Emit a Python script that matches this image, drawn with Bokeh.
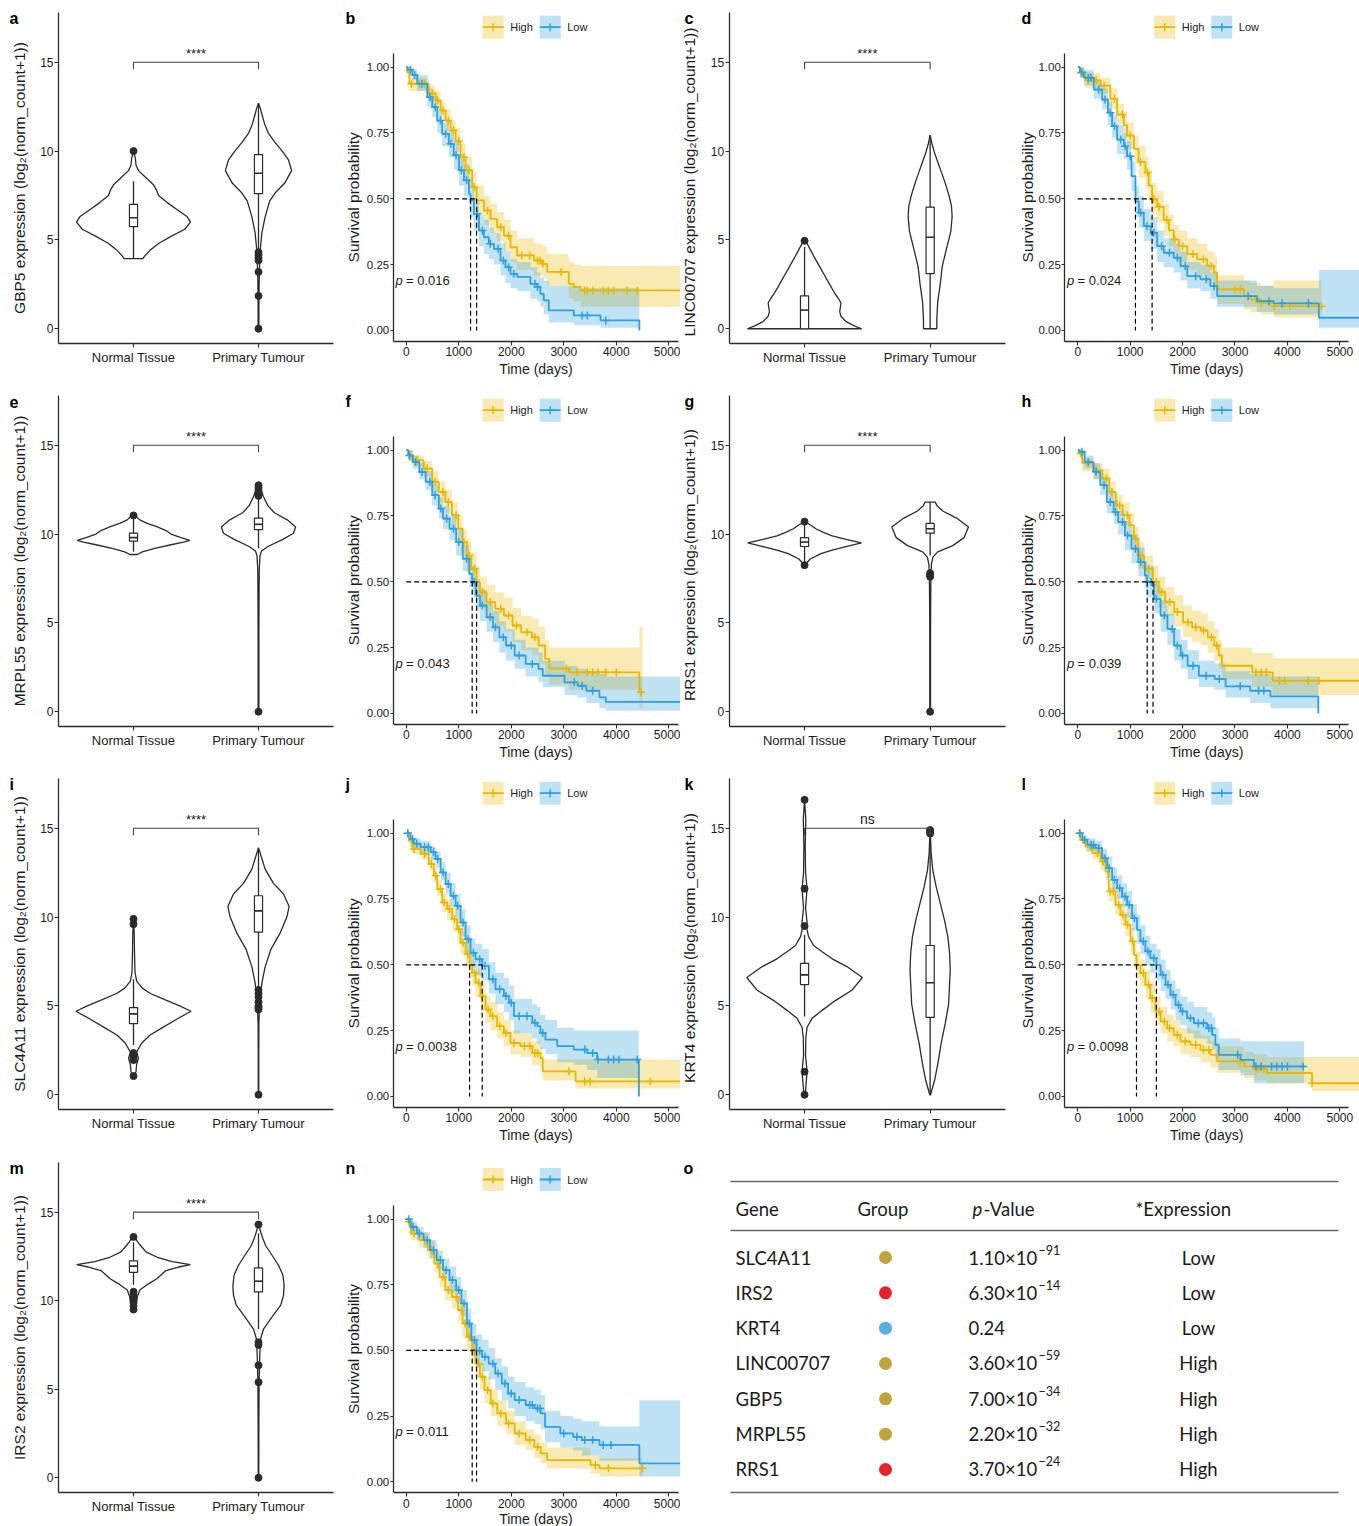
import numpy as np
from bokeh.plotting import figure
from bokeh.models import Range1d, FixedTicker, PrintfTickFormatter, Label, LinearAxis
from bokeh.layouts import row, column
from bokeh.embed import file_html
from bokeh.resources import INLINE
from bokeh.core.properties import value

FONT = "Liberation Sans"
TFONT = "Lato"
HIGH = "#E7B800"
LOW = "#2E9FDF"
INK = "#2b2b2b"
TXT = "#1a1a1a"
COL_W = [340, 340, 340, 339]
ROW_H = [383, 383, 383, 377]

# ======================= DATA: expression violins =======================
groups = ["Normal Tissue", "Primary Tumour"]

# GBP5 (a)
gbp5_norm_y = [3.95, 4.1, 4.4, 4.8, 5.2, 5.6, 6.0, 6.3, 6.7, 7.1, 7.5, 7.8, 8.1, 8.5, 8.9, 9.2, 9.6, 10.0]
gbp5_norm_w = [0.075, 0.09, 0.13, 0.2, 0.3, 0.41, 0.456, 0.43, 0.35, 0.27, 0.2, 0.185, 0.16, 0.1, 0.04, 0.02, 0.015, 0.0]
gbp5_tum_y = [0, 1.0, 2.0, 3.0, 3.8, 4.5, 5.4, 6.3, 7.2, 7.7, 8.2, 8.9, 9.5, 10.0, 10.5, 11.0, 11.5, 12.0, 12.4, 12.7]
gbp5_tum_w = [0.003, 0.003, 0.004, 0.006, 0.01, 0.015, 0.027, 0.053, 0.09, 0.14, 0.21, 0.265, 0.24, 0.19, 0.13, 0.08, 0.05, 0.03, 0.015, 0.0]
gbp5_box_norm = [3.95, 5.75, 6.25, 7.0, 8.3]     # whisker low, q1, median, q3, whisker high
gbp5_box_tum = [4.4, 7.6, 8.75, 9.8, 12.7]
gbp5_out_norm = [10.0]
gbp5_out_tum = [4.3, 4.15, 4.0, 3.85, 3.2, 1.85, 0.0]

# LINC00707 (c)
linc_norm_y = [0, 0.15, 0.4, 0.7, 0.95, 1.2, 1.45, 1.7, 2.0, 2.5, 3.0, 3.5, 4.0, 4.4, 4.8, 5.0]
linc_norm_w = [0.455, 0.4, 0.33, 0.29, 0.28, 0.285, 0.29, 0.27, 0.24, 0.2, 0.16, 0.12, 0.08, 0.05, 0.02, 0.0]
linc_tum_y = [0, 0.5, 1.5, 2.5, 3.5, 4.5, 5.5, 6.3, 6.9, 7.5, 8.2, 8.8, 9.4, 9.9, 10.4, 10.9]
linc_tum_w = [0.053, 0.053, 0.06, 0.08, 0.096, 0.13, 0.165, 0.175, 0.17, 0.15, 0.12, 0.09, 0.06, 0.035, 0.015, 0.0]
linc_box_norm = [0.0, 0.0, 1.05, 1.85, 4.6]
linc_box_tum = [0.0, 3.1, 5.15, 6.85, 10.9]
linc_out_norm = [4.95]
linc_out_tum = []

# MRPL55 (e)
mrpl_norm_y = [8.85, 9.0, 9.2, 9.4, 9.55, 9.65, 9.8, 10.0, 10.2, 10.4, 10.6, 10.8, 11.0, 11.15]
mrpl_norm_w = [0.03, 0.07, 0.17, 0.3, 0.4, 0.45, 0.38, 0.3, 0.26, 0.19, 0.11, 0.05, 0.02, 0.0]
mrpl_tum_y = [0, 2, 4, 6, 8, 8.8, 9.05, 9.3, 9.7, 10.05, 10.4, 10.8, 11.2, 11.6, 12.1, 12.5, 12.85]
mrpl_tum_w = [0.003, 0.003, 0.003, 0.004, 0.006, 0.012, 0.025, 0.075, 0.195, 0.28, 0.297, 0.23, 0.127, 0.075, 0.04, 0.02, 0.0]
mrpl_box_norm = [9.0, 9.6, 9.8, 10.05, 10.9]
mrpl_box_tum = [9.2, 10.25, 10.55, 10.9, 12.0]
mrpl_out_norm = [11.05]
mrpl_out_tum = [12.15, 12.3, 12.45, 12.6, 12.75, 0.0]

# RRS1 (g)
rrs1_norm_y = [8.2, 8.4, 8.6, 8.9, 9.1, 9.3, 9.5, 9.7, 9.9, 10.1, 10.3, 10.5, 10.7]
rrs1_norm_w = [0.0, 0.02, 0.045, 0.13, 0.22, 0.33, 0.453, 0.33, 0.22, 0.15, 0.09, 0.05, 0.0]
rrs1_tum_y = [0, 2, 4, 6, 7.5, 8.3, 8.7, 9.0, 9.35, 9.8, 10.4, 10.9, 11.3, 11.6, 11.8]
rrs1_tum_w = [0.003, 0.003, 0.003, 0.004, 0.006, 0.01, 0.022, 0.06, 0.18, 0.27, 0.305, 0.21, 0.1, 0.055, 0.04]
rrs1_box_norm = [8.4, 9.3, 9.55, 9.8, 10.5]
rrs1_box_tum = [8.8, 10.05, 10.3, 10.6, 11.8]
rrs1_out_norm = [8.25, 10.7]
rrs1_out_tum = [7.8, 7.7, 7.6, 0.0]

# SLC4A11 (i)
slc_norm_y = [1.0, 1.3, 1.7, 2.05, 2.4, 2.9, 3.35, 3.75, 4.25, 4.7, 5.0, 5.35, 5.7, 6.0, 6.4, 6.9, 8.0, 9.0, 9.9]
slc_norm_w = [0.0, 0.02, 0.025, 0.04, 0.025, 0.065, 0.13, 0.225, 0.345, 0.46, 0.37, 0.25, 0.135, 0.07, 0.025, 0.012, 0.008, 0.006, 0.0]
slc_tum_y = [0, 2, 4, 4.8, 5.4, 6.3, 7.2, 8.2, 9.1, 10.0, 10.6, 11.3, 11.9, 12.7, 13.3, 13.9]
slc_tum_w = [0.002, 0.002, 0.003, 0.008, 0.013, 0.027, 0.053, 0.1, 0.173, 0.227, 0.245, 0.2, 0.12, 0.053, 0.027, 0.0]
slc_box_norm = [2.8, 4.0, 4.55, 4.9, 6.5]
slc_box_tum = [6.0, 9.15, 10.35, 11.2, 13.8]
slc_out_norm = [2.35, 2.25, 2.15, 2.05, 1.95, 1.05, 9.6, 9.9]
slc_out_tum = [5.9, 5.7, 5.5, 5.2, 5.0, 4.9, 4.8, 0.0]

# KRT4 (k)
krt_norm_y = [0, 0.6, 1.3, 2.2, 3.2, 3.8, 4.3, 4.75, 5.3, 5.9, 6.6, 7.2, 7.65, 8.05, 8.4, 8.9, 9.4, 9.7, 10.5, 11.6, 12.5, 14.0, 15.5, 16.6]
krt_norm_w = [0.005, 0.012, 0.02, 0.008, 0.01, 0.02, 0.06, 0.14, 0.245, 0.38, 0.46, 0.34, 0.22, 0.14, 0.072, 0.032, 0.016, 0.02, 0.008, 0.02, 0.008, 0.005, 0.01, 0.0]
krt_tum_y = [0, 0.8, 1.7, 2.9, 4.0, 5.1, 6.25, 7.0, 7.95, 8.9, 9.8, 10.8, 11.7, 12.65, 13.6, 14.3, 14.9]
krt_tum_w = [0.003, 0.035, 0.06, 0.088, 0.12, 0.147, 0.155, 0.16, 0.155, 0.141, 0.115, 0.08, 0.048, 0.021, 0.008, 0.004, 0.0]
krt_box_norm = [4.4, 6.2, 6.75, 7.4, 9.0]
krt_box_tum = [0.0, 4.35, 6.3, 8.4, 14.4]
krt_out_norm = [0.0, 1.3, 9.5, 11.6, 16.6]
krt_out_tum = [14.9, 14.8, 14.7]

# IRS2 (m)
irs_norm_y = [9.45, 9.75, 10.2, 10.6, 10.95, 11.25, 11.45, 11.7, 11.9, 12.03, 12.2, 12.45, 12.75, 13.0, 13.3, 13.65]
irs_norm_w = [0.0, 0.02, 0.03, 0.05, 0.12, 0.19, 0.22, 0.26, 0.36, 0.455, 0.31, 0.19, 0.1, 0.07, 0.035, 0.0]
irs_tum_y = [0, 3, 5.5, 6.9, 7.85, 8.4, 9.1, 9.75, 10.3, 10.85, 11.45, 12.0, 12.55, 13.1, 13.6, 14.0, 14.3]
irs_tum_w = [0.002, 0.003, 0.005, 0.01, 0.017, 0.04, 0.11, 0.178, 0.2, 0.205, 0.195, 0.16, 0.11, 0.058, 0.03, 0.012, 0.0]
irs_box_norm = [10.9, 11.6, 11.95, 12.25, 13.3]
irs_box_tum = [8.4, 10.5, 11.1, 11.85, 13.8]
irs_out_norm = [13.6, 10.5, 10.35, 10.2, 10.05, 9.9, 9.7, 9.5]
irs_out_tum = [14.3, 7.65, 7.5, 6.35, 5.4, 0.0]

# ======================= DATA: Kaplan-Meier curves =======================
km_groups = ["High", "Low"]

# GBP5 (b)
b_high_t = [0, 20, 60, 430, 560, 655, 750, 845, 940, 1035, 1130, 1255, 1340, 1480, 1605, 1730, 1860, 1985, 2110, 2430, 2590, 2685, 3095, 3190, 3320, 5400]
b_high_s = [1.0, 0.98, 0.937, 0.90, 0.873, 0.835, 0.797, 0.76, 0.72, 0.658, 0.608, 0.544, 0.494, 0.456, 0.424, 0.392, 0.36, 0.316, 0.285, 0.266, 0.253, 0.222, 0.177, 0.165, 0.152, 0.152]
b_high_lo = [1.0, 0.96, 0.91, 0.87, 0.84, 0.80, 0.76, 0.72, 0.68, 0.61, 0.56, 0.49, 0.44, 0.40, 0.37, 0.34, 0.30, 0.26, 0.23, 0.21, 0.20, 0.17, 0.12, 0.11, 0.09, 0.09]
b_high_hi = [1.0, 1.0, 0.96, 0.93, 0.91, 0.87, 0.84, 0.80, 0.77, 0.71, 0.66, 0.60, 0.55, 0.51, 0.48, 0.45, 0.42, 0.38, 0.35, 0.33, 0.32, 0.29, 0.26, 0.25, 0.245, 0.245]
b_high_cens = [100, 250, 350, 500, 600, 700, 800, 900, 1000, 1100, 1200, 1300, 1550, 1800, 1950, 2200, 2350, 2500, 2550, 2600, 2950, 3400, 3450, 3550, 3750, 3850, 3950, 4200, 4400]
b_low_t = [0, 30, 115, 210, 400, 495, 590, 685, 810, 905, 1005, 1100, 1195, 1225, 1290, 1385, 1480, 1575, 1670, 1795, 1890, 1985, 2115, 2365, 2495, 2555, 2620, 2715, 3190, 3700, 4440]
b_low_s = [1.0, 0.99, 0.97, 0.937, 0.886, 0.848, 0.797, 0.747, 0.709, 0.665, 0.608, 0.57, 0.519, 0.494, 0.443, 0.38, 0.354, 0.329, 0.31, 0.266, 0.24, 0.215, 0.203, 0.177, 0.165, 0.139, 0.114, 0.076, 0.057, 0.038, 0.0]
b_low_lo = [1.0, 0.98, 0.95, 0.91, 0.85, 0.81, 0.75, 0.70, 0.66, 0.61, 0.55, 0.51, 0.46, 0.43, 0.38, 0.32, 0.29, 0.27, 0.25, 0.21, 0.18, 0.16, 0.15, 0.12, 0.11, 0.09, 0.06, 0.03, 0.02, 0.01, 0.01]
b_low_hi = [1.0, 1.0, 0.99, 0.97, 0.92, 0.89, 0.84, 0.79, 0.76, 0.72, 0.67, 0.63, 0.58, 0.56, 0.50, 0.44, 0.42, 0.39, 0.37, 0.33, 0.30, 0.27, 0.26, 0.24, 0.22, 0.20, 0.19, 0.17, 0.16, 0.16, 0.16]
b_low_cens = [80, 160, 300, 450, 550, 650, 750, 850, 950, 1050, 1150, 1350, 1450, 1600, 1750, 1850, 1950, 2050, 2450, 2500, 3350, 3450, 3800]
b_pval = 0.016

# LINC00707 (d)
d_high_t = [0, 40, 150, 430, 620, 750, 880, 940, 1070, 1160, 1290, 1355, 1418, 1510, 1640, 1740, 1830, 1930, 2090, 2280, 2470, 2600, 2660, 3170, 3300, 3490, 3740, 4650]
d_high_s = [1.0, 0.98, 0.95, 0.93, 0.88, 0.82, 0.78, 0.74, 0.69, 0.64, 0.60, 0.55, 0.50, 0.47, 0.42, 0.38, 0.345, 0.32, 0.29, 0.27, 0.245, 0.22, 0.156, 0.13, 0.118, 0.105, 0.092, 0.092]
d_high_lo = [1.0, 0.96, 0.92, 0.90, 0.84, 0.78, 0.73, 0.69, 0.64, 0.58, 0.54, 0.49, 0.44, 0.41, 0.36, 0.32, 0.29, 0.26, 0.23, 0.21, 0.19, 0.16, 0.10, 0.08, 0.07, 0.06, 0.05, 0.05]
d_high_hi = [1.0, 1.0, 0.98, 0.96, 0.92, 0.86, 0.83, 0.79, 0.74, 0.70, 0.66, 0.61, 0.56, 0.53, 0.48, 0.44, 0.40, 0.38, 0.35, 0.33, 0.30, 0.28, 0.21, 0.19, 0.18, 0.17, 0.19, 0.19]
d_high_cens = [60, 200, 350, 500, 700, 850, 1000, 1200, 1330, 1450, 1550, 1700, 1850, 2000, 2200, 2400, 2550, 3000, 3100, 3400, 3500, 3750, 4050, 4650]
d_low_t = [0, 40, 115, 305, 465, 575, 655, 750, 880, 940, 1025, 1100, 1165, 1260, 1390, 1515, 1640, 1830, 1960, 2090, 2340, 2530, 2660, 3420, 3740, 4600, 5400]
d_low_s = [1.0, 0.98, 0.96, 0.915, 0.877, 0.827, 0.776, 0.725, 0.70, 0.662, 0.586, 0.49, 0.447, 0.396, 0.371, 0.32, 0.295, 0.276, 0.244, 0.206, 0.194, 0.168, 0.13, 0.111, 0.103, 0.048, 0.048]
d_low_lo = [1.0, 0.96, 0.93, 0.88, 0.84, 0.78, 0.73, 0.67, 0.65, 0.61, 0.53, 0.43, 0.39, 0.34, 0.31, 0.26, 0.24, 0.22, 0.19, 0.16, 0.15, 0.12, 0.09, 0.07, 0.06, 0.01, 0.01]
d_low_hi = [1.0, 1.0, 0.99, 0.95, 0.92, 0.87, 0.82, 0.78, 0.75, 0.72, 0.64, 0.55, 0.51, 0.46, 0.43, 0.38, 0.35, 0.33, 0.30, 0.26, 0.25, 0.22, 0.19, 0.17, 0.16, 0.23, 0.23]
d_low_cens = [80, 200, 250, 400, 520, 620, 700, 820, 900, 1000, 1200, 1320, 1450, 1600, 1750, 1900, 2050, 2250, 2450, 2600, 3250, 3650, 3900, 4400]
d_pval = 0.024

# MRPL55 (f)
f_high_t = [0, 40, 125, 330, 495, 620, 745, 870, 990, 1075, 1155, 1240, 1340, 1405, 1530, 1695, 1860, 2025, 2190, 2395, 2520, 2645, 2725, 3100, 4440, 4500]
f_high_s = [1.0, 0.98, 0.962, 0.93, 0.88, 0.841, 0.803, 0.753, 0.702, 0.651, 0.60, 0.55, 0.499, 0.461, 0.423, 0.397, 0.372, 0.334, 0.308, 0.289, 0.258, 0.207, 0.171, 0.156, 0.08, 0.08]
f_high_lo = [1.0, 0.96, 0.94, 0.90, 0.84, 0.80, 0.76, 0.70, 0.65, 0.60, 0.54, 0.49, 0.44, 0.40, 0.36, 0.33, 0.31, 0.27, 0.24, 0.22, 0.19, 0.14, 0.11, 0.09, 0.02, 0.02]
f_high_hi = [1.0, 1.0, 0.98, 0.96, 0.92, 0.88, 0.85, 0.80, 0.75, 0.70, 0.66, 0.61, 0.56, 0.52, 0.49, 0.46, 0.44, 0.40, 0.37, 0.36, 0.33, 0.28, 0.25, 0.25, 0.33, 0.33]
f_high_cens = [80, 200, 400, 550, 700, 800, 950, 1100, 1200, 1300, 1450, 1600, 1800, 1950, 2100, 2300, 2450, 3050, 3250, 3450, 3550, 3650, 3800, 4000, 4470]
f_low_t = [0, 40, 125, 250, 370, 495, 620, 700, 825, 950, 1075, 1200, 1256, 1320, 1405, 1530, 1655, 1775, 1900, 2065, 2275, 2520, 2600, 3015, 3265, 3430, 3680, 3800, 5400]
f_low_s = [1.0, 0.98, 0.955, 0.917, 0.88, 0.829, 0.778, 0.74, 0.702, 0.651, 0.588, 0.53, 0.499, 0.448, 0.41, 0.365, 0.327, 0.289, 0.258, 0.22, 0.188, 0.169, 0.143, 0.118, 0.105, 0.086, 0.061, 0.044, 0.044]
f_low_lo = [1.0, 0.96, 0.93, 0.89, 0.85, 0.79, 0.74, 0.70, 0.66, 0.60, 0.54, 0.48, 0.45, 0.39, 0.35, 0.31, 0.27, 0.23, 0.20, 0.17, 0.14, 0.12, 0.10, 0.07, 0.06, 0.04, 0.02, 0.01, 0.01]
f_low_hi = [1.0, 1.0, 0.98, 0.95, 0.92, 0.87, 0.82, 0.79, 0.75, 0.70, 0.64, 0.59, 0.56, 0.51, 0.47, 0.42, 0.39, 0.35, 0.32, 0.28, 0.25, 0.23, 0.20, 0.18, 0.17, 0.16, 0.15, 0.14, 0.14]
f_low_cens = [60, 180, 300, 450, 550, 660, 770, 900, 1000, 1150, 1300, 1450, 1600, 1700, 1850, 2000, 2150, 2400, 3200, 3350, 3550]
f_pval = 0.043

# RRS1 (h)
h_high_t = [0, 30, 85, 300, 470, 600, 725, 855, 985, 1070, 1155, 1265, 1436, 1540, 1665, 1840, 2010, 2180, 2350, 2480, 2605, 2690, 2750, 3330, 3720, 5400]
h_high_s = [1.0, 0.987, 0.95, 0.924, 0.892, 0.841, 0.79, 0.753, 0.715, 0.664, 0.60, 0.55, 0.499, 0.461, 0.423, 0.385, 0.346, 0.327, 0.315, 0.289, 0.258, 0.22, 0.181, 0.156, 0.124, 0.124]
h_high_lo = [1.0, 0.97, 0.92, 0.89, 0.86, 0.80, 0.75, 0.71, 0.67, 0.61, 0.55, 0.50, 0.44, 0.40, 0.37, 0.33, 0.29, 0.27, 0.26, 0.23, 0.20, 0.17, 0.13, 0.10, 0.07, 0.07]
h_high_hi = [1.0, 1.0, 0.97, 0.95, 0.93, 0.88, 0.83, 0.80, 0.76, 0.71, 0.65, 0.60, 0.56, 0.52, 0.48, 0.45, 0.41, 0.39, 0.38, 0.35, 0.32, 0.28, 0.25, 0.23, 0.21, 0.21]
h_high_cens = [60, 200, 350, 550, 650, 800, 950, 1100, 1200, 1350, 1500, 1600, 1750, 1900, 2100, 2250, 2400, 2550, 2650, 3400, 3500, 3600, 3850, 3950, 4400, 4600]
h_low_t = [0, 30, 130, 300, 430, 555, 685, 770, 900, 1025, 1155, 1280, 1325, 1455, 1580, 1710, 1840, 1965, 2095, 2310, 2610, 2820, 3290, 3675, 4590]
h_low_s = [1.0, 0.994, 0.955, 0.918, 0.867, 0.803, 0.765, 0.727, 0.676, 0.626, 0.575, 0.524, 0.499, 0.435, 0.372, 0.321, 0.258, 0.22, 0.181, 0.143, 0.131, 0.103, 0.086, 0.065, 0.0]
h_low_lo = [1.0, 0.98, 0.93, 0.89, 0.83, 0.76, 0.72, 0.68, 0.62, 0.57, 0.52, 0.47, 0.44, 0.38, 0.31, 0.26, 0.20, 0.17, 0.13, 0.10, 0.09, 0.06, 0.04, 0.02, 0.02]
h_low_hi = [1.0, 1.0, 0.98, 0.95, 0.90, 0.85, 0.81, 0.77, 0.73, 0.68, 0.63, 0.58, 0.56, 0.49, 0.43, 0.38, 0.32, 0.28, 0.24, 0.20, 0.19, 0.16, 0.15, 0.14, 0.14]
h_low_cens = [80, 200, 350, 500, 620, 720, 850, 950, 1100, 1200, 1400, 1500, 1650, 1800, 1900, 2000, 2200, 2450, 2700, 3100, 3450, 3550]
h_pval = 0.039

# SLC4A11 (j)
j_high_t = [0, 50, 115, 275, 430, 525, 590, 685, 780, 875, 970, 1035, 1130, 1206, 1255, 1320, 1415, 1510, 1605, 1730, 1860, 1985, 2175, 2400, 2555, 2600, 3225, 5400]
j_high_s = [1.0, 0.972, 0.94, 0.921, 0.883, 0.839, 0.788, 0.737, 0.712, 0.673, 0.635, 0.584, 0.54, 0.499, 0.47, 0.432, 0.381, 0.33, 0.305, 0.267, 0.241, 0.203, 0.191, 0.165, 0.146, 0.095, 0.057, 0.057]
j_high_lo = [1.0, 0.95, 0.92, 0.90, 0.86, 0.81, 0.76, 0.70, 0.67, 0.63, 0.59, 0.54, 0.49, 0.45, 0.42, 0.38, 0.33, 0.28, 0.25, 0.22, 0.19, 0.16, 0.15, 0.12, 0.10, 0.06, 0.03, 0.03]
j_high_hi = [1.0, 0.99, 0.96, 0.95, 0.91, 0.87, 0.82, 0.77, 0.75, 0.72, 0.68, 0.63, 0.59, 0.55, 0.52, 0.48, 0.43, 0.38, 0.36, 0.32, 0.29, 0.25, 0.24, 0.21, 0.19, 0.14, 0.14, 0.14]
j_high_cens = [30, 150, 350, 480, 560, 650, 720, 820, 920, 1000, 1080, 1170, 1300, 1380, 1450, 1560, 1650, 1780, 1900, 2050, 2250, 2350, 2450, 2500, 3100, 3400, 3500, 4650]
j_low_t = [0, 80, 145, 275, 465, 560, 655, 750, 845, 940, 1035, 1130, 1225, 1320, 1447, 1575, 1700, 1860, 1955, 2050, 2400, 2495, 2555, 2650, 2875, 3190, 3445, 3635, 4430]
j_low_s = [1.0, 0.978, 0.96, 0.947, 0.928, 0.902, 0.851, 0.807, 0.762, 0.724, 0.661, 0.597, 0.546, 0.521, 0.496, 0.445, 0.407, 0.381, 0.356, 0.305, 0.28, 0.267, 0.241, 0.216, 0.191, 0.178, 0.165, 0.14, 0.0]
j_low_lo = [1.0, 0.96, 0.94, 0.92, 0.90, 0.87, 0.82, 0.77, 0.72, 0.68, 0.61, 0.55, 0.49, 0.46, 0.44, 0.39, 0.35, 0.32, 0.29, 0.24, 0.22, 0.20, 0.18, 0.16, 0.13, 0.12, 0.10, 0.07, 0.07]
j_low_hi = [1.0, 0.99, 0.98, 0.97, 0.95, 0.93, 0.89, 0.85, 0.81, 0.77, 0.71, 0.65, 0.60, 0.58, 0.56, 0.51, 0.47, 0.45, 0.42, 0.37, 0.35, 0.34, 0.31, 0.29, 0.26, 0.25, 0.25, 0.25, 0.25]
j_low_cens = [30, 120, 200, 350, 420, 520, 600, 700, 800, 900, 980, 1080, 1180, 1280, 1400, 1500, 1650, 1780, 1900, 2000, 2150, 2300, 2450, 2600, 3400, 3550, 3650, 3850, 3950, 4050, 4400]
j_pval = 0.0038

# KRT4 (l)
l_high_t = [0, 50, 145, 275, 435, 530, 590, 720, 815, 910, 1005, 1070, 1120, 1195, 1290, 1385, 1480, 1580, 1705, 1830, 1960, 2150, 2340, 2530, 2660, 3170, 3360, 3610, 4470, 5400]
l_high_s = [1.0, 0.975, 0.949, 0.924, 0.892, 0.854, 0.778, 0.728, 0.69, 0.652, 0.589, 0.538, 0.499, 0.468, 0.424, 0.373, 0.323, 0.285, 0.259, 0.234, 0.209, 0.196, 0.177, 0.158, 0.133, 0.114, 0.105, 0.089, 0.05, 0.05]
l_high_lo = [1.0, 0.96, 0.93, 0.90, 0.86, 0.82, 0.74, 0.69, 0.65, 0.61, 0.54, 0.49, 0.45, 0.42, 0.37, 0.32, 0.27, 0.24, 0.21, 0.19, 0.16, 0.15, 0.13, 0.11, 0.09, 0.07, 0.06, 0.05, 0.02, 0.02]
l_high_hi = [1.0, 0.99, 0.97, 0.95, 0.92, 0.89, 0.82, 0.77, 0.73, 0.70, 0.64, 0.59, 0.55, 0.52, 0.48, 0.43, 0.38, 0.34, 0.31, 0.29, 0.26, 0.25, 0.23, 0.21, 0.19, 0.17, 0.16, 0.15, 0.15, 0.15]
l_high_cens = [30, 100, 250, 380, 480, 620, 680, 780, 860, 950, 1050, 1250, 1350, 1420, 1550, 1650, 1750, 1900, 2050, 2250, 2400, 2500, 3100, 3400, 3450, 3550, 4470]
l_low_t = [0, 85, 180, 335, 465, 560, 655, 750, 845, 940, 1035, 1130, 1195, 1290, 1385, 1500, 1580, 1675, 1770, 1865, 1960, 2085, 2215, 2470, 2565, 2625, 2690, 3105, 3360, 4320]
l_low_s = [1.0, 0.975, 0.956, 0.943, 0.905, 0.867, 0.823, 0.791, 0.759, 0.728, 0.677, 0.633, 0.589, 0.551, 0.525, 0.499, 0.462, 0.424, 0.386, 0.348, 0.323, 0.297, 0.278, 0.259, 0.234, 0.196, 0.158, 0.139, 0.114, 0.114]
l_low_lo = [1.0, 0.96, 0.93, 0.92, 0.88, 0.83, 0.78, 0.75, 0.72, 0.68, 0.63, 0.58, 0.54, 0.50, 0.47, 0.44, 0.40, 0.37, 0.33, 0.29, 0.27, 0.24, 0.22, 0.20, 0.18, 0.14, 0.10, 0.08, 0.05, 0.05]
l_low_hi = [1.0, 0.99, 0.98, 0.97, 0.94, 0.91, 0.87, 0.84, 0.81, 0.78, 0.73, 0.69, 0.65, 0.61, 0.58, 0.56, 0.52, 0.48, 0.44, 0.41, 0.38, 0.36, 0.34, 0.32, 0.30, 0.26, 0.22, 0.21, 0.21, 0.21]
l_low_cens = [40, 130, 250, 300, 400, 520, 600, 700, 800, 900, 980, 1080, 1250, 1340, 1450, 1620, 1720, 1820, 1920, 2000, 2150, 2300, 2400, 2500, 2550, 3050, 3400, 3500, 3700, 3800, 3900, 4000, 4300]
l_pval = 0.0098

# IRS2 (n)
n_high_t = [0, 30, 85, 250, 415, 535, 635, 745, 870, 990, 1075, 1155, 1256, 1320, 1405, 1490, 1610, 1735, 1900, 2065, 2275, 2440, 2560, 2685, 3510, 3680, 4500]
n_high_s = [1.0, 0.99, 0.945, 0.92, 0.882, 0.831, 0.78, 0.73, 0.704, 0.654, 0.603, 0.552, 0.499, 0.45, 0.40, 0.349, 0.298, 0.26, 0.222, 0.184, 0.159, 0.133, 0.108, 0.082, 0.063, 0.051, 0.051]
n_high_lo = [1.0, 0.97, 0.92, 0.89, 0.85, 0.80, 0.74, 0.69, 0.66, 0.61, 0.55, 0.50, 0.45, 0.40, 0.35, 0.30, 0.25, 0.21, 0.18, 0.14, 0.12, 0.09, 0.07, 0.05, 0.03, 0.02, 0.02]
n_high_hi = [1.0, 1.0, 0.97, 0.95, 0.92, 0.87, 0.82, 0.77, 0.75, 0.70, 0.65, 0.60, 0.55, 0.50, 0.45, 0.40, 0.35, 0.31, 0.27, 0.23, 0.20, 0.18, 0.15, 0.13, 0.10, 0.09, 0.09]
n_high_cens = [50, 150, 350, 480, 600, 700, 800, 950, 1050, 1120, 1200, 1300, 1380, 1450, 1550, 1650, 1800, 1950, 2150, 2350, 2500, 3600, 3850, 4500]
n_low_t = [0, 85, 205, 330, 455, 580, 700, 825, 950, 1050, 1155, 1240, 1339, 1445, 1570, 1695, 1820, 1940, 2065, 2275, 2440, 2560, 2645, 2935, 3180, 3345, 3680, 4440, 5400]
n_low_s = [1.0, 0.971, 0.945, 0.92, 0.882, 0.844, 0.806, 0.768, 0.73, 0.679, 0.603, 0.539, 0.499, 0.476, 0.45, 0.412, 0.374, 0.336, 0.311, 0.292, 0.279, 0.26, 0.209, 0.184, 0.171, 0.159, 0.14, 0.07, 0.07]
n_low_lo = [1.0, 0.95, 0.92, 0.89, 0.85, 0.81, 0.77, 0.72, 0.68, 0.63, 0.55, 0.48, 0.44, 0.42, 0.39, 0.35, 0.31, 0.28, 0.25, 0.23, 0.22, 0.20, 0.15, 0.13, 0.12, 0.10, 0.08, 0.02, 0.02]
n_low_hi = [1.0, 0.99, 0.97, 0.95, 0.92, 0.88, 0.85, 0.82, 0.78, 0.73, 0.66, 0.60, 0.56, 0.54, 0.51, 0.47, 0.44, 0.40, 0.38, 0.36, 0.35, 0.33, 0.27, 0.25, 0.24, 0.23, 0.21, 0.31, 0.31]
n_low_cens = [50, 130, 250, 400, 520, 650, 760, 880, 1000, 1100, 1200, 1300, 1400, 1500, 1650, 1750, 1880, 2000, 2150, 2350, 2400, 2500, 2550, 3000, 3250, 3400, 3550, 3750, 3900, 5400]
n_pval = 0.011

# ======================= DATA: summary table =======================
table_genes = ["SLC4A11", "IRS2", "KRT4", "LINC00707", "GBP5", "MRPL55", "RRS1"]
table_group_colors = ["#C0A33C", "#E8222A", "#5AAEE2", "#C0A33C", "#C0A33C", "#C0A33C", "#E8222A"]
table_pvalues = [1.10e-91, 6.30e-14, 0.24, 3.60e-59, 7.00e-34, 2.20e-32, 3.70e-24]
table_expression = ["Low", "Low", "Low", "High", "High", "High", "High"]


# ======================= helpers =======================
def make_panel(width, height, box, xr, yr):
    """Figure whose frame is the whole panel; `box` = (left, top, right, bottom) px of the plotting area."""
    l, t, r, b = box
    sx = (xr[1] - xr[0]) / (r - l)
    sy = (yr[1] - yr[0]) / (b - t)
    x0 = xr[0] - l * sx
    y1 = yr[1] + t * sy
    p = figure(width=width, height=height,
               x_range=Range1d(x0, x0 + width * sx), y_range=Range1d(y1 - height * sy, y1),
               output_backend="svg", toolbar_location=None,
               x_axis_location=None, y_axis_location=None,
               min_border=0, min_border_left=0, min_border_right=0, min_border_top=0, min_border_bottom=0)
    p.xgrid.visible = False
    p.ygrid.visible = False
    p.outline_line_color = None
    p.background_fill_color = "white"
    p.border_fill_color = "white"
    X = lambda px: x0 + px * sx
    Y = lambda py: y1 - py * sy
    return p, X, Y


def add_axes(p, xr, yr, xticks, yticks, xsize, ysize, xstand, ystand, ytick_out=4):
    xax = LinearAxis(fixed_location=yr[0], bounds=tuple(xr), ticker=FixedTicker(ticks=xticks))
    yax = LinearAxis(fixed_location=xr[0], bounds=tuple(yr), ticker=FixedTicker(ticks=yticks))
    for ax, size, stand, tout in ((xax, xsize, xstand, 4), (yax, ysize, ystand, ytick_out)):
        ax.axis_line_color = INK
        ax.axis_line_width = 1.3
        ax.major_tick_line_color = INK
        ax.major_tick_line_width = 1.1
        ax.major_tick_in = 0
        ax.major_tick_out = tout
        ax.minor_tick_line_color = None
        ax.major_label_text_font = FONT
        ax.major_label_text_color = TXT
        ax.major_label_text_font_size = size
        ax.major_label_standoff = stand
    p.add_layout(xax, "below")
    p.add_layout(yax, "left")
    return xax, yax


def add_text(p, x, y, text, size, **kw):
    p.add_layout(Label(x=x, y=y, text=text, text_font=FONT, text_font_size=size,
                       text_color=kw.pop("color", TXT), **kw))


def violin_panel(letter, gene, nv, tv, nbox, tbox, nout, tout, sig, col, rowi):
    width, height = COL_W[col], ROW_H[rowi]
    l, r = (58, 333) if col == 0 else (48.7, 325)
    t, b = (12, 343) if rowi < 3 else (13, 343)
    xr, yr = (0.4, 2.6), (-0.83, 17.8)
    p, X, Y = make_panel(width, height, (l, t, r, b), xr, yr)
    pos = [1, 2]
    for c, (vy, vw) in zip(pos, (nv, tv)):
        vy = np.asarray(vy, float)
        vw = np.asarray(vw, float)
        xs = np.concatenate([c - vw, (c + vw)[::-1]])
        ys = np.concatenate([vy, vy[::-1]])
        p.patch(xs, ys, fill_color="white", line_color=INK, line_width=1.3)
    boxes = [nbox, tbox]
    bw = 0.065
    p.segment(x0=pos, x1=pos, y0=[q[0] for q in boxes], y1=[q[4] for q in boxes],
              line_color=INK, line_width=1.3)
    p.quad(left=[c - bw / 2 for c in pos], right=[c + bw / 2 for c in pos],
           bottom=[q[1] for q in boxes], top=[q[3] for q in boxes],
           fill_color="white", line_color=INK, line_width=1.2)
    p.segment(x0=[c - bw / 2 for c in pos], x1=[c + bw / 2 for c in pos],
              y0=[q[2] for q in boxes], y1=[q[2] for q in boxes], line_color=INK, line_width=1.6)
    p.scatter(x=[1] * len(nout) + [2] * len(tout), y=list(nout) + list(tout),
              size=7, fill_color=INK, line_color=INK)
    # significance bracket
    p.line(x=[1, 1, 2, 2], y=[14.6, 15, 15, 14.6], line_color="#444444", line_width=1.1)
    p.text(x=[1.5], y=[15.05], text=[sig], text_font=value(FONT),
           text_font_size="13px" if sig != "ns" else "14px",
           text_align="center", text_baseline="bottom", text_color=TXT)
    xax, yax = add_axes(p, xr, yr, pos, [0, 5, 10, 15], "13px", "12px", 2, 1)
    xax.major_label_overrides = {1: groups[0], 2: groups[1]}
    # y-axis title
    ycx = 19 if col == 0 else 8.5
    ycy = (t + b) / 2 + (0 if col == 0 else 4)
    add_text(p, X(ycx), Y(ycy), f"{gene} expression (log\u2082(norm_count+1))", "15.5px",
             angle=np.pi / 2, text_align="center", text_baseline="middle")
    # panel letter
    add_text(p, X(9 if col == 0 else 4), Y(18 if rowi < 3 else 19), letter, "16px", color="black",
             text_font_style="bold", text_align="left", text_baseline="middle")
    return p


def km_panel(letter, high, low, pval, col, rowi):
    width, height = COL_W[col], ROW_H[rowi]
    if col == 1:
        l, r, xr = 52.7, 338, (-248, 5185)
    else:
        l, r, xr = 44.3, 328, (-248, 5166)
    t, b = (53, 340.7) if rowi < 3 else (56, 343)
    yr = (-0.041, 1.052)
    p, X, Y = make_panel(width, height, (l, t, r, b), xr, yr)
    curves = [(high, HIGH), (low, LOW)]
    for (tt, s, lo, hi, cens), colr in curves:
        p.varea_step(x=tt, y1=lo, y2=hi, step_mode="after", fill_color=colr, fill_alpha=0.3)
    meds = []
    for (tt, s, lo, hi, cens), colr in curves:
        p.step(x=tt, y=s, mode="after", line_color=colr, line_width=1.8)
        ta = np.asarray(tt, float)
        sa = np.asarray(s, float)
        idx = np.clip(np.searchsorted(ta, cens, side="right") - 1, 0, len(sa) - 1)
        p.scatter(x=cens, y=sa[idx], marker="cross", size=8, line_color=colr, line_width=1.5)
        meds.append(float(ta[np.argmax(sa <= 0.5)]))
    p.line(x=[0, max(meds)], y=[0.5, 0.5], line_dash="5 3", line_color="black", line_width=1.2)
    p.segment(x0=meds, x1=meds, y0=[0.5, 0.5], y1=[0.0, 0.0], line_dash="5 3",
              line_color="black", line_width=1.2)
    # p-value
    add_text(p, X(l + 2.3), 0.19, "p", "13px", text_font_style="italic", text_baseline="middle")
    add_text(p, X(l + 12.8), 0.19, f"= {pval}", "13px", text_baseline="middle")
    # legend (key boxes above the plotting area)
    ly = 26.7 if rowi < 3 else 30
    for name, colr, kx in zip(km_groups, (HIGH, LOW), (l + 89.5, l + 146.5)):
        p.quad(left=[X(kx)], right=[X(kx + 21)], top=[Y(ly - 11.5)], bottom=[Y(ly + 11.5)],
               fill_color=colr, fill_alpha=0.3, line_color=None)
        p.segment(x0=[X(kx)], x1=[X(kx + 21)], y0=[Y(ly)], y1=[Y(ly)], line_color=colr, line_width=1.8)
        p.scatter(x=[X(kx + 10.5)], y=[Y(ly)], marker="cross", size=8, line_color=colr, line_width=1.5)
        add_text(p, X(kx + 27.5), Y(ly), name, "11px", text_baseline="middle")
    xax, yax = add_axes(p, xr, yr, [0, 1000, 2000, 3000, 4000, 5000], [0, 0.25, 0.5, 0.75, 1.0],
                        "12px", "11.5px", 2, 1, ytick_out=3)
    yax.formatter = PrintfTickFormatter(format="%.2f")
    # axis titles
    add_text(p, X((l + r) / 2), Y(368 if rowi < 3 else 369), "Time (days)", "14px",
             text_align="center", text_baseline="middle")
    add_text(p, X(12.7 if col == 1 else 6.5), Y((t + b) / 2), "Survival probability", "15.5px",
             angle=np.pi / 2, text_align="center", text_baseline="middle")
    # panel letter
    add_text(p, X(5 if col == 1 else 1), Y(18 if rowi < 3 else 19), letter, "16px",
             color="black", text_font_style="bold", text_align="left", text_baseline="middle")
    return p


def table_panel():
    p = figure(width=COL_W[2] + COL_W[3], height=ROW_H[3], x_range=Range1d(0, 679), y_range=Range1d(377, 0),
               output_backend="svg", toolbar_location=None, x_axis_location=None, y_axis_location=None,
               min_border=0, min_border_left=0, min_border_right=0, min_border_top=0, min_border_bottom=0)
    p.xgrid.visible = False
    p.ygrid.visible = False
    p.outline_line_color = None
    n = len(table_genes)
    ry = 108 + 35.33 * np.arange(n)
    p.segment(x0=[50, 50, 50], x1=[658, 658, 658], y0=[32, 81, 343], y1=[32, 81, 343],
              line_color="#666666", line_width=1.7)
    fs = "18.5px"
    p.text(x=[3], y=[19], text=["o"], text_font=value(FONT), text_font_style="bold",
           text_font_size="16px", text_baseline="middle", text_color="black")
    p.text(x=[55, 177, 303, 455], y=[59] * 4, text=["Gene", "Group", "-Value", "*Expression"],
           text_font=value(TFONT), text_font_size=fs, text_baseline="middle", text_color=TXT)
    p.text(x=[292], y=[59], text=["p"], text_font=value(TFONT), text_font_style="italic",
           text_font_size=fs, text_baseline="middle", text_color=TXT)
    p.text(x=[55] * n, y=ry, text=table_genes, text_font=value(TFONT), text_font_size=fs,
           text_baseline="middle", text_color=TXT)
    p.scatter(x=[205] * n, y=ry, size=13, fill_color=table_group_colors, line_color=None)
    mant, expo = [], []
    for v in table_pvalues:
        if v < 1e-3:
            m, e = f"{v:.2e}".split("e")
            mant.append(f"{m}\u00d710")
            expo.append("\u2212" + str(abs(int(e))))
        else:
            mant.append(f"{v:.2f}")
            expo.append("")
    p.text(x=[288] * n, y=ry, text=mant, text_font=value(TFONT), text_font_size=fs,
           text_baseline="middle", text_color=TXT)
    p.text(x=[358] * n, y=ry - 8, text=expo, text_font=value(TFONT), text_font_size="12.5px",
           text_baseline="middle", text_color=TXT)
    p.text(x=[518] * n, y=ry, text=table_expression, text_font=value(TFONT), text_font_size=fs,
           text_align="center", text_baseline="middle", text_color=TXT)
    return p


def km(prefix):
    g = globals()
    return [(g[f"{prefix}_{k}_t"], g[f"{prefix}_{k}_s"], g[f"{prefix}_{k}_lo"],
             g[f"{prefix}_{k}_hi"], g[f"{prefix}_{k}_cens"]) for k in ("high", "low")]


pa = violin_panel("a", "GBP5", (gbp5_norm_y, gbp5_norm_w), (gbp5_tum_y, gbp5_tum_w),
                  gbp5_box_norm, gbp5_box_tum, gbp5_out_norm, gbp5_out_tum, "****", 0, 0)
pb = km_panel("b", *km("b"), b_pval, 1, 0)
pc = violin_panel("c", "LINC00707", (linc_norm_y, linc_norm_w), (linc_tum_y, linc_tum_w),
                  linc_box_norm, linc_box_tum, linc_out_norm, linc_out_tum, "****", 2, 0)
pd = km_panel("d", *km("d"), d_pval, 3, 0)

pe = violin_panel("e", "MRPL55", (mrpl_norm_y, mrpl_norm_w), (mrpl_tum_y, mrpl_tum_w),
                  mrpl_box_norm, mrpl_box_tum, mrpl_out_norm, mrpl_out_tum, "****", 0, 1)
pf = km_panel("f", *km("f"), f_pval, 1, 1)
pg = violin_panel("g", "RRS1", (rrs1_norm_y, rrs1_norm_w), (rrs1_tum_y, rrs1_tum_w),
                  rrs1_box_norm, rrs1_box_tum, rrs1_out_norm, rrs1_out_tum, "****", 2, 1)
ph = km_panel("h", *km("h"), h_pval, 3, 1)

pi = violin_panel("i", "SLC4A11", (slc_norm_y, slc_norm_w), (slc_tum_y, slc_tum_w),
                  slc_box_norm, slc_box_tum, slc_out_norm, slc_out_tum, "****", 0, 2)
pj = km_panel("j", *km("j"), j_pval, 1, 2)
pk = violin_panel("k", "KRT4", (krt_norm_y, krt_norm_w), (krt_tum_y, krt_tum_w),
                  krt_box_norm, krt_box_tum, krt_out_norm, krt_out_tum, "ns", 2, 2)
pl = km_panel("l", *km("l"), l_pval, 3, 2)

pm = violin_panel("m", "IRS2", (irs_norm_y, irs_norm_w), (irs_tum_y, irs_tum_w),
                  irs_box_norm, irs_box_tum, irs_out_norm, irs_out_tum, "****", 0, 3)
pn = km_panel("n", *km("n"), n_pval, 1, 3)
po = table_panel()

layout = column(row(pa, pb, pc, pd), row(pe, pf, pg, ph), row(pi, pj, pk, pl), row(pm, pn, po))

with open("out.html", "w") as fh:
    fh.write(file_html(layout, INLINE))
